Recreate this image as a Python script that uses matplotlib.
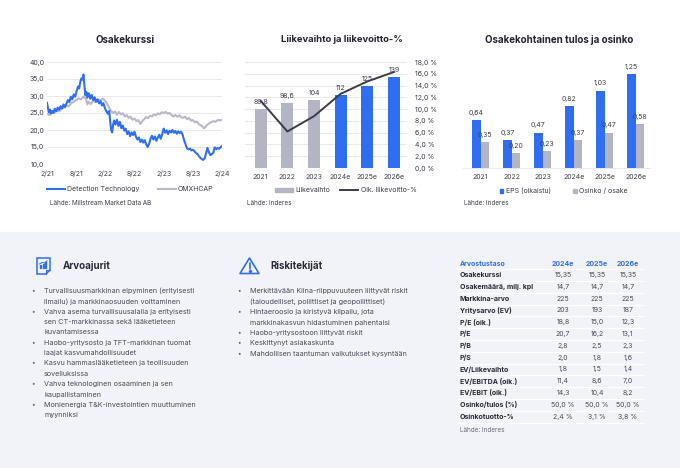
import numpy as np
import matplotlib
matplotlib.use('Agg')
import matplotlib.pyplot as plt
from matplotlib.patches import Rectangle, Polygon, Patch
from matplotlib.lines import Line2D

# ----------------------------------------------------------------------------
# Data
# ----------------------------------------------------------------------------

# Share price, months since 2/21
dt_months = [0.0, 0.2, 0.4, 0.6, 0.8, 1.0, 1.3, 1.6, 1.9, 2.2, 2.5, 2.8, 3.1,
             3.4, 3.7, 4.0, 4.3, 4.6, 4.9, 5.2, 5.5, 5.8, 6.1, 6.4, 6.6, 6.9,
             7.1, 7.3, 7.5, 7.7, 7.9, 8.1, 8.3, 8.6, 8.9, 9.2, 9.5, 9.8, 10.1,
             10.4, 10.7, 11.0, 11.3, 11.6, 11.9, 12.2, 12.5, 12.8, 13.0, 13.2,
             13.4, 13.6, 13.8, 14.1, 14.4, 14.7, 15.0, 15.3, 15.6, 15.9, 16.2,
             16.5, 16.8, 17.1, 17.4, 17.7, 18.0, 18.3, 18.6, 18.9, 19.2, 19.5,
             19.8, 20.1, 20.4, 20.7, 21.0, 21.3, 21.6, 21.9, 22.2, 22.5, 22.8,
             23.1, 23.4, 23.7, 24.0, 24.3, 24.6, 24.9, 25.2, 25.5, 25.8, 26.1,
             26.4, 26.7, 27.0, 27.3, 27.6, 27.9, 28.2, 28.5, 28.8, 29.1, 29.4,
             29.7, 30.0, 30.3, 30.6, 30.9, 31.2, 31.5, 31.8, 32.1, 32.4, 32.7,
             33.0, 33.3, 33.6, 33.9, 34.2, 34.5, 34.8, 35.1, 35.4, 35.7, 36.0]
dt_price = [28.0, 26.5, 25.2, 26.0, 24.8, 25.6, 25.0, 26.3, 25.5, 26.6, 26.0,
            27.0, 26.3, 27.5, 26.8, 27.8, 28.8, 28.2, 29.8, 29.0, 30.5, 29.8,
            31.5, 32.8, 32.2, 34.5, 35.2, 34.8, 36.3, 33.0, 30.2, 31.2, 29.5,
            30.8, 29.2, 30.3, 28.8, 29.6, 28.3, 29.0, 27.8, 28.5, 27.2, 27.9,
            26.5, 25.5, 24.8, 25.6, 22.5, 20.0, 19.3, 21.5, 22.8, 21.6, 23.0,
            21.2, 22.4, 20.5, 21.3, 19.8, 20.4, 18.8, 19.6, 18.2, 19.3, 18.5,
            19.5, 18.0, 17.2, 17.8, 16.5, 17.2, 16.3, 17.0, 15.8, 15.0, 15.9,
            17.5, 18.3, 17.2, 18.1, 16.8, 17.8, 18.6, 17.4, 18.8, 20.4, 19.2,
            19.9, 18.8, 19.8, 19.3, 20.0, 19.2, 19.7, 18.9, 19.6, 19.1, 19.5,
            18.6, 17.0, 15.8, 14.6, 14.3, 14.5, 14.0, 14.2, 13.8, 13.3, 13.0,
            12.4, 11.9, 11.5, 11.2, 11.6, 13.0, 14.7, 13.5, 12.6, 12.9, 13.3,
            14.9, 14.4, 14.7, 14.5, 14.9, 15.3]

omx_months = [0.0, 0.5, 1.0, 1.5, 2.0, 2.5, 3.0, 3.5, 4.0, 4.5, 5.0, 5.5, 6.0,
              6.5, 7.0, 7.5, 8.0, 8.3, 8.6, 9.0, 9.5, 10.0, 10.5, 11.0, 11.5,
              12.0, 12.4, 12.8, 13.2, 13.6, 14.0, 14.4, 14.8, 15.2, 15.6, 16.0,
              16.4, 16.8, 17.2, 17.6, 18.0, 18.4, 18.8, 19.2, 19.6, 20.0, 20.4,
              20.8, 21.2, 21.6, 22.0, 22.4, 22.8, 23.2, 23.6, 24.0, 24.4, 24.8,
              25.2, 25.6, 26.0, 26.4, 26.8, 27.2, 27.6, 28.0, 28.4, 28.8, 29.2,
              29.6, 30.0, 30.4, 30.8, 31.2, 31.6, 32.0, 32.3, 32.6, 33.0, 33.4,
              33.8, 34.2, 34.6, 35.0, 35.4, 35.7, 36.0]
omx_price = [24.8, 24.4, 25.3, 25.0, 25.8, 25.5, 26.3, 26.6, 27.2, 27.0, 27.9,
             28.3, 28.8, 29.3, 29.0, 29.8, 29.2, 27.5, 28.3, 27.6, 28.6, 28.2,
             29.0, 28.6, 29.3, 28.5, 27.6, 26.4, 25.6, 25.0, 25.4, 24.5, 25.3,
             24.6, 24.9, 24.0, 24.4, 23.6, 23.9, 23.0, 23.4, 22.6, 22.9, 21.8,
             22.6, 23.2, 23.8, 23.5, 24.2, 24.0, 24.6, 24.3, 24.9, 24.6, 25.2,
             25.0, 25.3, 24.8, 25.0, 24.4, 24.0, 24.4, 23.9, 24.3, 23.8, 23.6,
             23.9, 23.2, 23.5, 22.8, 22.9, 22.3, 22.5, 21.8, 21.4, 21.0, 20.5,
             20.9, 21.6, 22.0, 22.3, 22.6, 22.4, 22.8, 23.0, 22.8, 23.0]

price_ticks = [0, 6, 12, 18, 24, 30, 36]
price_tick_labels = ['2/21', '8/21', '2/22', '8/22', '2/23', '8/23', '2/24']

# Revenue and EBIT-%
years = ['2021', '2022', '2023', '2024e', '2025e', '2026e']
revenue = [89.8, 98.6, 104, 112, 125, 139]
revenue_labels = ['89,8', '98,6', '104', '112', '125', '139']
ebit_pct = [11.4, 6.2, 8.8, 12.6, 14.7, 16.3]

# EPS and dividend
eps = [0.64, 0.37, 0.47, 0.82, 1.03, 1.25]
dividend = [0.35, 0.20, 0.23, 0.37, 0.47, 0.58]

# Bullet lists
drivers = ['Turvallisuusmarkkinan elpyminen (erityisesti\nilmailu) ja markkinaosuuden voittaminen',
           'Vahva asema turvallisuusalalla ja erityisesti\nsen CT-markkinassa sekä lääketieteen\nkuvantamisessa',
           'Haobo-yritysosto ja TFT-markkinan tuomat\nlaajat kasvumahdollisuudet',
           'Kasvu hammaslääketieteen ja teollisuuden\nsovelluksissa',
           'Vahva teknologinen osaaminen ja sen\nkaupallistaminen',
           'Monienergia T&K-investointien muuttuminen\nmyynniksi']
risks = ['Merkittävään Kiina-riippuvuuteen liittyvät riskit\n(taloudelliset, poliittiset ja geopoliittiset)',
         'Hintaeroosio ja kiristyvä kilpailu, jota\nmarkkinakasvun hidastuminen pahentaisi',
         'Haobo-yritysostoon liittyvät riskit',
         'Keskittynyt asiakaskunta',
         'Mahdollisen taantuman vaikutukset kysyntään']

# Valuation table
table_years = ['2024e', '2025e', '2026e']
table_rows = ['Osakekurssi', 'Osakemäärä, milj. kpl', 'Markkina-arvo',
              'Yritysarvo (EV)', 'P/E (oik.)', 'P/E', 'P/B', 'P/S',
              'EV/Liikevaihto', 'EV/EBITDA (oik.)', 'EV/EBIT (oik.)',
              'Osinko/tulos (%)', 'Osinkotuotto-%']
val_2024 = ['15,35', '14,7', '225', '203', '18,8', '20,7', '2,8', '2,0',
            '1,8', '11,4', '14,3', '50,0 %', '2,4 %']
val_2025 = ['15,35', '14,7', '225', '193', '15,0', '16,2', '2,5', '1,8',
            '1,5', '8,6', '10,4', '50,0 %', '3,1 %']
val_2026 = ['15,35', '14,7', '225', '187', '12,3', '13,1', '2,3', '1,6',
            '1,4', '7,0', '8,2', '50,0 %', '3,8 %']

# ----------------------------------------------------------------------------
# Style
# ----------------------------------------------------------------------------
plt.rcParams['font.family'] = ['Inter', 'DejaVu Sans']

BLUE = '#2f6ef0'
GREY = '#b3b4c4'
LGREY = '#b9b7c9'
DARK = '#3a3c4c'
TXT = '#3c3c48'
GRID = '#e8e8ee'
BG = '#f2f3f9'

W, H = 680, 468


def fx(x):
    return x / W


def fy(y):
    return 1 - y / H


def comma(v, fmt):
    return fmt.format(v).replace('.', ',')


fig = plt.figure(figsize=(6.8, 4.68), dpi=100)
# lower background (below the axes in drawing order)
fig.patches.append(Rectangle((0, 0), 1, fy(232), transform=fig.transFigure,
                             color=BG, zorder=-5))

# ----------------------------------------------------------------------------
# Chart 1: Osakekurssi
# ----------------------------------------------------------------------------
ax1 = fig.add_axes([fx(47), fy(164), fx(175), (164 - 62) / H])
ax1.plot(omx_months, omx_price, color=LGREY, lw=1.5, zorder=2)
ax1.plot(dt_months, dt_price, color=BLUE, lw=1.5, zorder=3)
ax1.set_xlim(0, 36)
ax1.set_ylim(10, 40)
yt = np.arange(10, 41, 5)
ax1.set_yticks(yt)
ax1.set_yticklabels([comma(v, '{:.1f}') for v in yt])
ax1.set_xticks(price_ticks)
ax1.set_xticklabels(price_tick_labels)
ax1.grid(True, axis='y', color=GRID, lw=0.7)
ax1.set_axisbelow(True)
for s in ax1.spines.values():
    s.set_visible(False)
ax1.tick_params(length=0, labelsize=5, colors=TXT)
ax1.tick_params(axis='x', pad=5)
ax1.tick_params(axis='y', pad=2)

fig.text(fx(125), fy(40), 'Osakekurssi', ha='center', va='center',
         fontsize=7, fontweight='bold', color='#23232e')
fig.legend(handles=[Line2D([], [], color=BLUE, lw=1.5),
                    Line2D([], [], color=LGREY, lw=1.5)],
           labels=['Detection Technology', 'OMXHCAP'],
           loc='center left', bbox_to_anchor=(fx(47), fy(189)), ncol=2,
           frameon=False, fontsize=5, handlelength=2.6, handletextpad=0.3,
           columnspacing=2.6, borderaxespad=0, borderpad=0, labelcolor=TXT)
fig.text(fx(50), fy(203), 'Lähde: Millstream Market Data AB', ha='left',
         va='center', fontsize=4.6, color=TXT)

# ----------------------------------------------------------------------------
# Chart 2: Liikevaihto ja liikevoitto-%
# ----------------------------------------------------------------------------
x = np.arange(len(years))
ax2 = fig.add_axes([fx(245), fy(168), fx(162), (168 - 62) / H])
bar_colors = [GREY] * 3 + [BLUE] * 3
bars = ax2.bar(x, revenue, width=0.45, color=bar_colors, zorder=2)
ax2.bar_label(bars, labels=revenue_labels, padding=3, fontsize=5, color=TXT)
ax2.set_xlim(-0.59, 5.49)
ax2.set_ylim(0, 162)
ax2.set_yticks(np.arange(0, 163, 18))
ax2.set_yticklabels([])
ax2.grid(True, axis='y', color=GRID, lw=0.7)
ax2.set_axisbelow(True)
ax2.set_xticks(x)
ax2.set_xticklabels(years)
for s in ax2.spines.values():
    s.set_visible(False)
ax2.tick_params(length=0, labelsize=5, colors=TXT)
ax2.tick_params(axis='x', pad=4.5)

ax2b = ax2.twinx()
ax2b.plot(x, ebit_pct, color=DARK, lw=1.4, zorder=3)
ax2b.set_ylim(0, 18)
pt = np.arange(0, 19, 2)
ax2b.set_yticks(pt)
ax2b.set_yticklabels([comma(v, '{:.1f}') + ' %' for v in pt])
for s in ax2b.spines.values():
    s.set_visible(False)
ax2b.tick_params(length=0, labelsize=5, colors=TXT, pad=6)

fig.text(fx(342), fy(40), 'Liikevaihto ja liikevoitto-%', ha='center',
         va='center', fontsize=6.8, fontweight='bold', color='#23232e')
fig.legend(handles=[Patch(color=GREY), Line2D([], [], color=DARK, lw=1.4)],
           labels=['Liikevaihto', 'Oik. liikevoitto-%'],
           loc='center left', bbox_to_anchor=(fx(275), fy(190.5)), ncol=2,
           frameon=False, fontsize=5, handlelength=2.6, handleheight=0.5,
           handletextpad=0.3, columnspacing=1.5, borderaxespad=0, borderpad=0,
           labelcolor=TXT)
fig.text(fx(247), fy(203), 'Lähde: Inderes', ha='left', va='center',
         fontsize=4.6, color=TXT)

# ----------------------------------------------------------------------------
# Chart 3: Osakekohtainen tulos ja osinko
# ----------------------------------------------------------------------------
bw = 0.275
ax3 = fig.add_axes([fx(463), fy(168), fx(187), (168 - 62) / H])
b_eps = ax3.bar(x - bw / 2, eps, width=bw, color=BLUE)
b_div = ax3.bar(x + bw / 2, dividend, width=bw, color=GREY)
ax3.bar_label(b_eps, labels=[comma(v, '{:.2f}') for v in eps], padding=3,
              fontsize=5, color=TXT)
ax3.bar_label(b_div, labels=[comma(v, '{:.2f}') for v in dividend], padding=3,
              fontsize=5, color=TXT)
ax3.set_xlim(-0.57, 5.46)
ax3.set_ylim(0, 1.41)
ax3.set_yticks([])
ax3.set_xticks(x)
ax3.set_xticklabels(years)
for s in ['left', 'right', 'top']:
    ax3.spines[s].set_visible(False)
ax3.spines['bottom'].set_color(GRID)
ax3.spines['bottom'].set_linewidth(0.7)
ax3.tick_params(length=0, labelsize=5, colors=TXT, pad=4.5)

fig.text(fx(559), fy(40), 'Osakekohtainen tulos ja osinko', ha='center',
         va='center', fontsize=7, fontweight='bold', color='#23232e')
fig.legend(handles=[Patch(color=BLUE), Patch(color=GREY)],
           labels=['EPS (oikaistu)', 'Osinko / osake'],
           loc='center left', bbox_to_anchor=(fx(500), fy(191)), ncol=2,
           frameon=False, fontsize=5, handlelength=0.5, handleheight=0.5,
           handletextpad=0.3, columnspacing=3.3, borderaxespad=0, borderpad=0,
           labelcolor=TXT)
fig.text(fx(464), fy(203), 'Lähde: Inderes', ha='left', va='center',
         fontsize=4.6, color=TXT)

# ----------------------------------------------------------------------------
# Bottom: Arvoajurit and Riskitekijät
# ----------------------------------------------------------------------------
LINE = 10.35


def bullet_list(items, x_dot, x_txt, y0):
    y = y0
    for item in items:
        fig.text(fx(x_dot), fy(y), '•', ha='left', va='center', fontsize=4.5,
                 color='#6a6a78')
        for line in item.split('\n'):
            fig.text(fx(x_txt), fy(y), line, ha='left', va='center',
                     fontsize=5.2, color='#4a4a58')
            y += LINE


fig.text(fx(63), fy(266), 'Arvoajurit', ha='left', va='center', fontsize=7,
         fontweight='bold', color='#2a2a36')
fig.text(fx(270), fy(266), 'Riskitekijät', ha='left', va='center', fontsize=7,
         fontweight='bold', color='#2a2a36')
bullet_list(drivers, 31, 44, 291)
bullet_list(risks, 237, 250, 291.5)

# document icon
axi = fig.add_axes([fx(36), fy(275), fx(15), 18 / H])
axi.set_xlim(0, 15)
axi.set_ylim(0, 18)
axi.axis('off')
axi.add_patch(Polygon([[1, 17], [14, 17], [14, 5], [10, 1], [1, 1]],
                      closed=True, fill=False, ec=BLUE, lw=1.1))
axi.plot([10, 10, 14], [1, 5, 5], color=BLUE, lw=0.8)
for bx, bh in zip([4, 6.5, 9], [3, 4.5, 6]):
    axi.add_patch(Rectangle((bx, 7), 1.4, bh, color=BLUE))
axi.plot([3.5, 6, 8.5, 11], [11, 12.5, 12, 14], color=BLUE, lw=0.7)

# warning icon
axw = fig.add_axes([fx(239), fy(275), fx(21), 18 / H])
axw.set_xlim(0, 21)
axw.set_ylim(0, 18)
axw.axis('off')
axw.add_patch(Polygon([[10.5, 17], [20, 1.5], [1, 1.5]], closed=True,
                      fill=False, ec=BLUE, lw=1.2, joinstyle='round'))
axw.plot([10.5, 10.5], [6.5, 12.5], color=BLUE, lw=1.2, solid_capstyle='round')
axw.plot([10.5], [4.2], 'o', color=BLUE, ms=1.4)

# ----------------------------------------------------------------------------
# Valuation table
# ----------------------------------------------------------------------------
col_x = [563, 597, 628]
ROW = 11.8
fig.text(fx(460), fy(263.5), 'Arvostustaso', ha='left', va='center',
         fontsize=5, fontweight='bold', color=BLUE)
for cx, yr in zip(col_x, table_years):
    fig.text(fx(cx), fy(263.5), yr, ha='center', va='center', fontsize=5,
             fontweight='bold', color=BLUE)

for i, name in enumerate(table_rows):
    yy = 275 + ROW * i
    fig.text(fx(460), fy(yy), name, ha='left', va='center', fontsize=5,
             fontweight='bold', color='#2a2a36')
    for cx, vals in zip(col_x, [val_2024, val_2025, val_2026]):
        fig.text(fx(cx), fy(yy), vals[i], ha='center', va='center',
                 fontsize=5, color='#4a4a58')
    fig.add_artist(Line2D([fx(458), fx(643)], [fy(yy - ROW / 2)] * 2,
                          color='white', lw=0.9))
fig.add_artist(Line2D([fx(458), fx(643)], [fy(275 + ROW * 12.5)] * 2,
                      color='white', lw=0.9))
fig.text(fx(460), fy(429.5), 'Lähde: Inderes', ha='left', va='center',
         fontsize=4.6, color='#6a6a78')

fig.savefig('out.png', dpi=100)
